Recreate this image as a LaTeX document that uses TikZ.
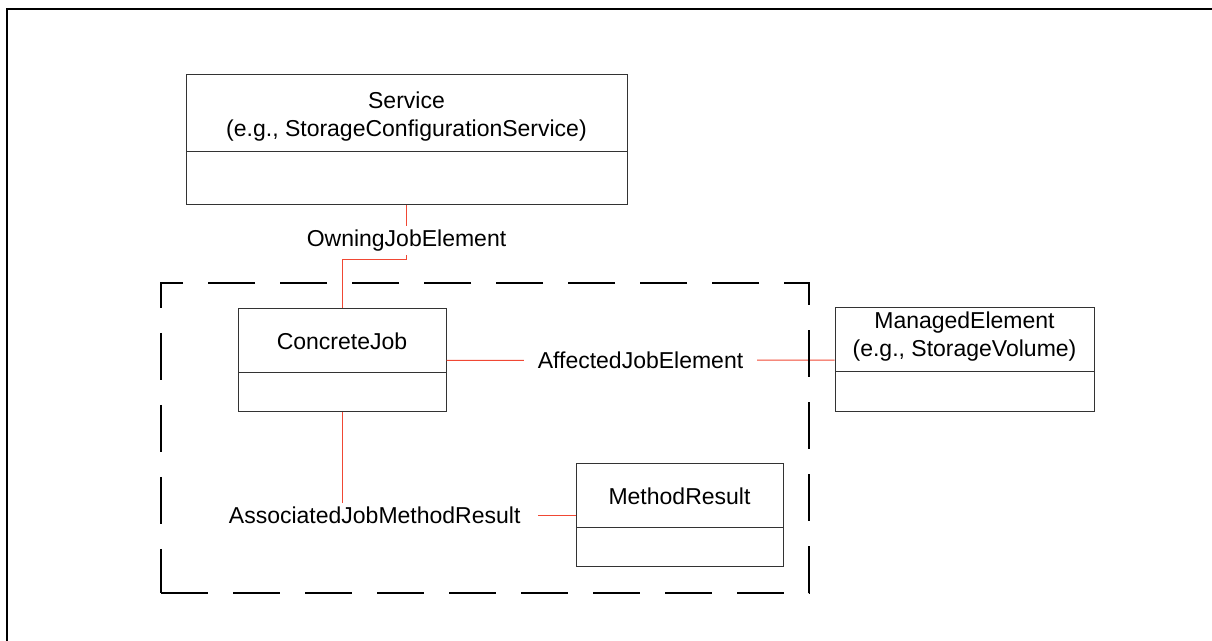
\documentclass[tikz,border=0pt]{standalone}
\usepackage{fontspec}
\setmainfont{Liberation Sans}
\usepackage{tikz}
\usetikzlibrary{positioning}

\definecolor{assocred}{RGB}{240,72,52}

\tikzset{
  classbox/.style={draw=black!80, line width=0.5pt, inner sep=0pt,
    path picture={\draw[black!80, line width=0.5pt]
      ([yshift=-#1]path picture bounding box.north west) --
      ([yshift=-#1]path picture bounding box.north east);}},
  classbox/.default=32pt,
  classname/.style={align=center, inner sep=0pt},
  assoc/.style={draw=assocred, line width=0.5pt},
  assoclabel/.style={fill=white, inner xsep=7pt, inner ysep=2pt},
  jobgroup/.style={draw, line width=1pt, dash pattern=on 23.5pt off 12.5pt},
  frame/.style={line width=1pt}
}

\begin{document}
\begin{tikzpicture}[x=0.5pt, y=-0.5pt, font=\fontsize{11.5}{14}\selectfont]
  \useasboundingbox (0,0) rectangle (1212,641);
  \draw[frame] (7,641) -- (7,9) -- (1212,9); % page frame

  % classes
  \node[classbox=38.5pt, minimum width=220.5pt, minimum height=65pt] (svc) at (406.5,140) {};
  \node[classname] (svcname) at ([yshift=-21.25pt]svc.north) {Service\\(e.g., StorageConfigurationService)};
  \node[classbox, minimum width=104pt, minimum height=51.5pt] (cjob) at (342,360.5) {};
  \node[classname] (cjobname) at ([yshift=-16.5pt]cjob.north) {ConcreteJob};
  \node[classbox, minimum width=129.5pt, minimum height=52pt] (mel) at (964.5,360) {};
  \node[classname] (melname) at ([yshift=-14.75pt]mel.north) {ManagedElement\\(e.g., StorageVolume)};
  \node[classbox, minimum width=103.5pt, minimum height=51.5pt] (mres) at (679.5,515.5) {};
  \node[classname] (mresname) at ([yshift=-16.5pt]mres.north) {MethodResult};

  % associations
  \draw[assoc] (svc.south) -- node[assoclabel, pos=.65] (owning) {OwningJobElement} ++(0,54) -| (cjob.north); % svc -- cjob
  \draw[assoc] (cjob) -- node[assoclabel] (affected) {AffectedJobElement} (mel); % cjob -- mel
  \draw[assoc] (cjob.south) |- node[assoclabel, pos=.57, inner xsep=9pt] (assocres) {AssociatedJobMethodResult} (mres.west); % cjob -- mres

  % job boundary
  \node[jobgroup, minimum width=324pt, minimum height=155pt] (jobs) at (485,438) {};
\end{tikzpicture}
\end{document}
